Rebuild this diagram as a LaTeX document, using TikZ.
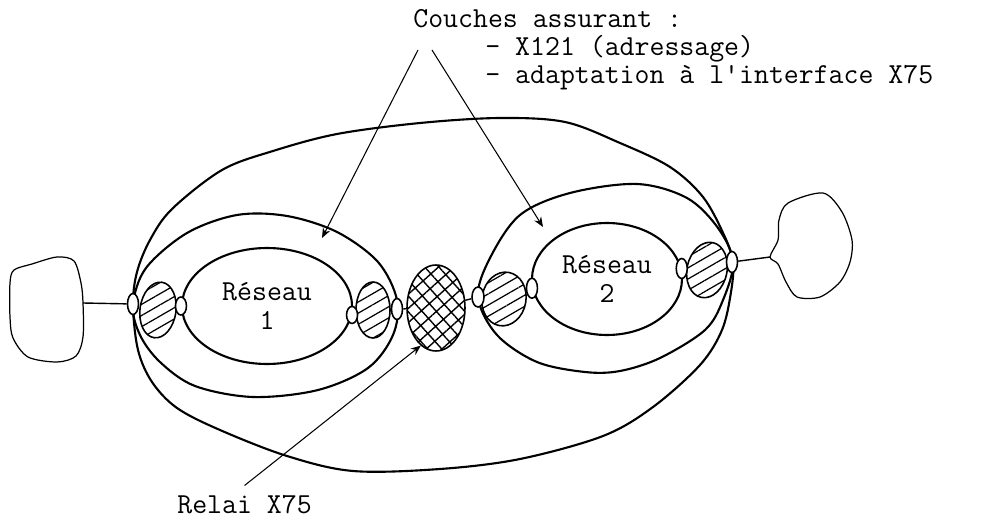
\documentclass[tikz,border=0pt]{standalone}
\usepackage{fontspec}
\usetikzlibrary{arrows.meta,shapes.geometric,patterns.meta}
\newcommand{\tw}{\ttfamily\fontsize{16.5}{17}\selectfont}
\tikzset{
  ring/.style={line width=1.2pt, line join=round},
  cloud/.style={line width=0.7pt},
  reseau/.style={draw, ellipse, line width=1.2pt, inner sep=0pt, align=center, font=\tw},
  port/.style={draw, ellipse, fill=white, line width=0.9pt, inner sep=0pt,
               minimum width=0.22cm, minimum height=0.42cm},
  hatched/.style={draw, ellipse, line width=0.9pt, inner sep=0pt, preaction={fill=white},
                  pattern={Lines[angle=30,distance=5.5pt,line width=0.7pt]}},
  relais/.style={draw, ellipse, line width=0.9pt, inner sep=0pt, preaction={fill=white},
                 pattern={Hatch[angle=42,distance=6pt,line width=0.8pt]},
                 minimum width=1.16cm, minimum height=1.72cm},
  lbl/.style={font=\tw, inner sep=0pt, anchor=base west},
  points/.style={-{Stealth[length=2mm,width=1.6mm]}, line width=0.6pt},
  link/.style={line width=0.8pt},
}

\begin{document}
\begin{tikzpicture}[x={(0.02cm,0)}, y={(0,-0.02cm)}]
\useasboundingbox (0,0) rectangle (990,520);

% enveloppe commune
\draw[ring] plot[smooth cycle, tension=0.55] coordinates {
  (133,305) (137,272) (150,240) (172,209) (222,170) (273,151) (337,134) (420,123)
  (500,118) (565,122) (620,143) (670,167) (703,197) (724,235) (733,262) (731,292)
  (722,330) (700,365) (653,407) (603,436) (520,459) (440,469) (353,471) (287,456)
  (220,430) (177,408) (152,382) (138,350)};

% couches autour des reseaux
\draw[ring] plot[smooth cycle, tension=0.55] coordinates {
  (133,305) (146,268) (187,233) (237,215) (287,216) (337,232) (378,262) (397,300)
  (393,335) (368,368) (318,390) (253,397) (195,386) (160,362) (140,335)};
\draw[ring] plot[smooth cycle, tension=0.55] coordinates {
  (478,297) (490,258) (520,215) (570,193) (637,184) (687,198) (718,228) (733,262)
  (723,300) (705,330) (660,358) (620,371) (585,372) (537,362) (497,335)};

% reseaux
\node[reseau, minimum width=3.4cm, minimum height=2.32cm] (res1) at (267,306) {Réseau\\1};
\node[reseau, minimum width=3cm, minimum height=2.24cm] (res2) at (607,279) {Réseau\\2};

% clouds (terminaux)
\draw[cloud] plot[smooth cycle, tension=0.5] coordinates {
  (10,283) (14,270) (32,264) (57,257) (74,261) (81,283) (83,303) (83,337)
  (76,356) (57,362) (28,357) (13,338) (10,317)};
\coordinate (cloudL) at (83,303);
\draw[cloud] plot[smooth cycle, tension=0.5] coordinates {
  (770,257) (778,240) (779,220) (788,203) (823,193) (842,212) (852,240) (850,262)
  (840,282) (820,297) (797,297) (786,282) (778,264)};
\coordinate (cloudR) at (770,257);

% couches hachurees
\node[hatched, minimum width=0.72cm, minimum height=1.12cm, rotate=-8] (hL1) at (158,310) {};
\node[hatched, minimum width=0.68cm, minimum height=1.12cm] (hL2) at (373,310) {};
\node[hatched, minimum width=0.88cm, minimum height=1.08cm, rotate=-10] (hR1) at (504,299) {};
\node[hatched, minimum width=0.8cm, minimum height=1.12cm, rotate=-12] (hR2) at (707,270) {};
\node[relais] (relay) at (436,308) {};

% points d'acces
\node[port] (pL) at (133,304) {};
\node[port, minimum height=0.36cm] (p1a) at (res1.west) {};
\node[port, minimum height=0.34cm] (p1b) at (res1.-6) {};
\node[port] (p1c) at (397,309) {};
\node[port, minimum width=0.24cm, minimum height=0.4cm] (p2a) at (478,297) {};
\node[port, minimum height=0.4cm] (p2b) at (res2.187) {};
\node[port, minimum height=0.4cm] (p2c) at (res2.8) {};
\node[port] (pR) at (732,262) {};

\draw[link] (cloudL) -- (pL);
\draw[link] (p1c) -- (relay);
\draw[link] (relay) -- (p2a);
\draw[link] (pR) -- (cloudR);

% textes
\node[lbl] (couches) at (413,28) {Couches assurant :};
\node[lbl] (adr) at (485,56) {- X121 (adressage)};
\node[lbl] (adapt) at (485,84) {- adaptation à l'interface X75};
\node[lbl] (relai) at (177,513) {Relai X75};

\coordinate (tipA) at (322,238);
\coordinate (tipB) at (543,227);
\draw[points] (418,50) -- (tipA);
\draw[points] (432,50) -- (tipB);
\draw[points] ([yshift=0.18cm]relai.north) -- (relay.248);
\end{tikzpicture}
\end{document}
